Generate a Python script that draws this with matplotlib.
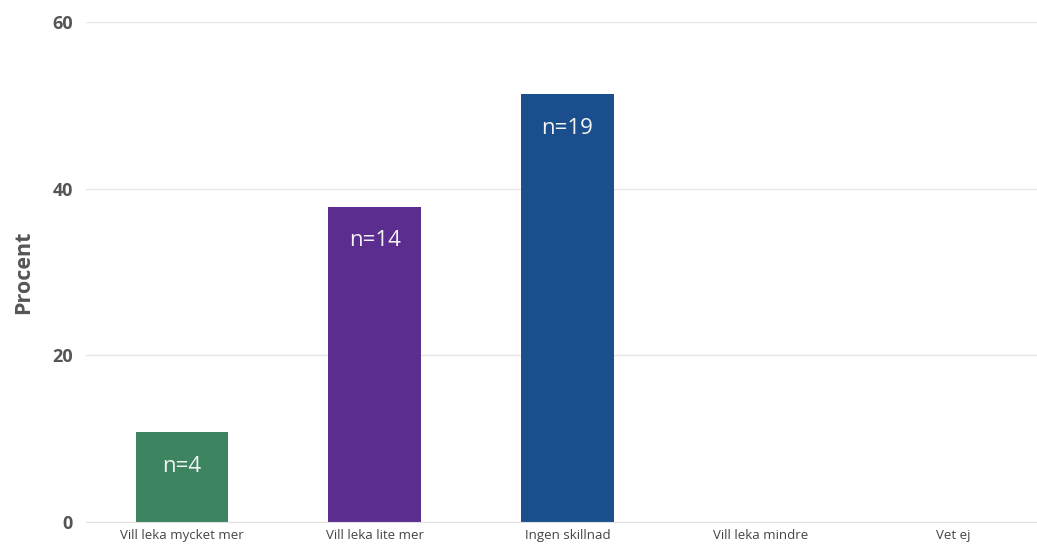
import matplotlib.pyplot as plt

categories = ['Vill leka mycket mer', 'Vill leka lite mer', 'Ingen skillnad',
              'Vill leka mindre', 'Vet ej']
counts = [4, 14, 19, 0, 0]
total = 37
percent = [c / total * 100 for c in counts]
colors = ['#3d8560', '#5b2d8e', '#1a4e8c', '#777777', '#777777']

plt.rcParams['font.family'] = ['Open Sans', 'DejaVu Sans']

fig = plt.figure(figsize=(10.37, 5.46), dpi=100)
ax = fig.add_axes([0.0825, 0.044, 0.9296, 0.916])

x = range(len(categories))
bars = ax.bar(x, percent, width=0.48, color=colors, zorder=2)

for b, n in zip(bars, counts):
    if n == 0:
        continue
    ax.text(b.get_x() + b.get_width() / 2, b.get_height() - 4.1, f'n={n}',
            ha='center', va='center', color='#f4f4f4', fontsize=16)

ax.set_xlim(-0.5, len(categories) - 0.5)
ax.set_ylim(0, 60)
ax.set_yticks([0, 20, 40, 60])
ax.set_xticks(list(x))
ax.set_xticklabels(categories, fontsize=9.5, color='#444444')
ax.tick_params(axis='y', length=0, pad=9, labelsize=13, labelcolor='#555555')
ax.tick_params(axis='x', length=0, pad=5)
for lbl in ax.get_yticklabels():
    lbl.set_fontweight('bold')

ax.grid(axis='y', color='#e6e6e6', linewidth=1, zorder=0)
for s in ['top', 'right', 'left']:
    ax.spines[s].set_visible(False)
ax.spines['bottom'].set_color('#e0e0e0')

ax.set_ylabel('Procent', fontsize=15.5, fontweight='bold', color='#555555', labelpad=13)

fig.savefig('out.png', dpi=100)
